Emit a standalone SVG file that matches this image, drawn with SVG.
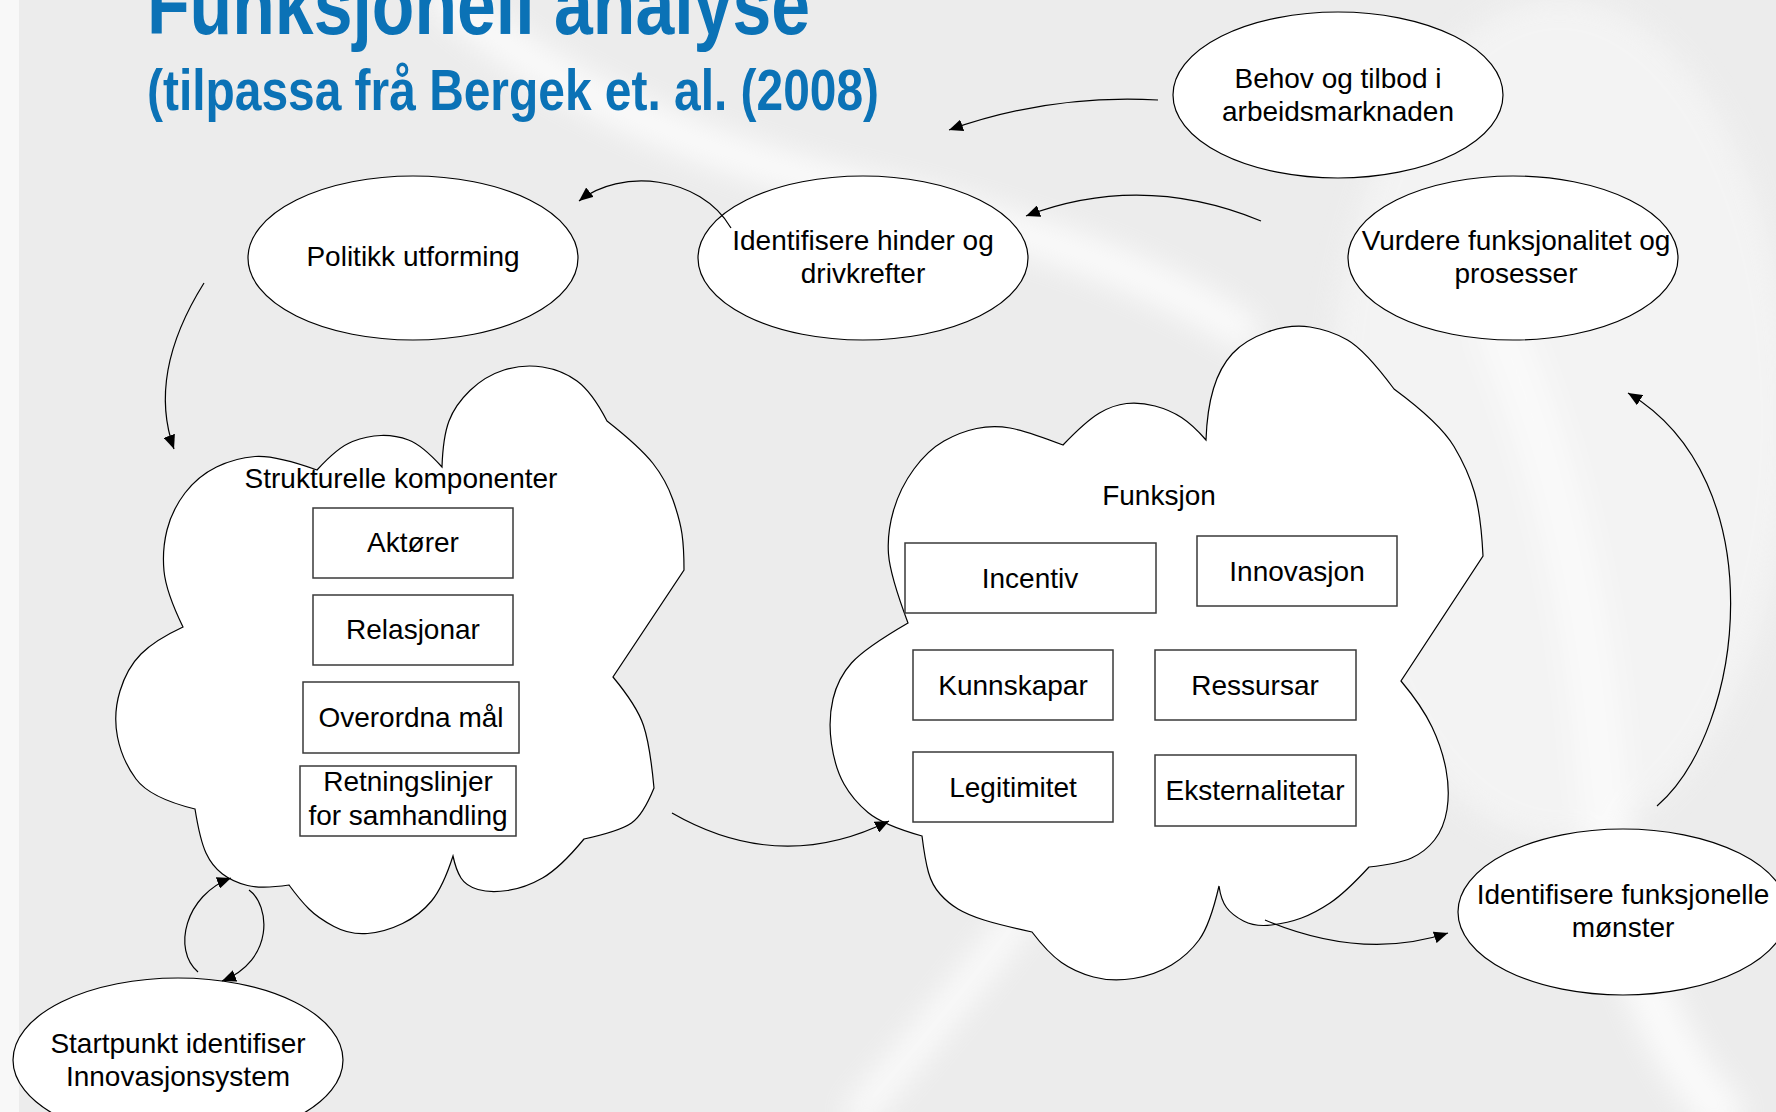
<svg xmlns="http://www.w3.org/2000/svg" width="1776" height="1112" viewBox="0 0 1776 1112">
<defs>
  <marker id="ah" viewBox="0 0 14 12" markerWidth="14" markerHeight="12" refX="14" refY="6" orient="auto" markerUnits="userSpaceOnUse">
    <path d="M0,0 L14,6 L0,12 Z" fill="#000"/>
  </marker>
  <filter id="soft" x="-20%" y="-20%" width="140%" height="140%">
    <feGaussianBlur stdDeviation="14"/>
  </filter>
</defs>
<style>
  .lbl { font-family: "Liberation Sans", Arial, sans-serif; font-size: 28px; fill: #000; text-anchor: middle; }
  .ell { fill: #fff; stroke: #000; stroke-width: 1.2; }
  .box { fill: #fff; stroke: #3a3a3a; stroke-width: 1.5; }
  .cloud { fill: #fff; stroke: #000; stroke-width: 1.2; }
  .conn { fill: none; stroke: #000; stroke-width: 1.2; marker-end: url(#ah); }
  .title { font-family: "Liberation Sans Narrow", "Liberation Sans", Arial, sans-serif; font-weight: bold; fill: #0b72b6; }
  .band { fill: none; stroke: #ffffff; stroke-linecap: round; }
</style>

<g id="background">
  <rect x="0" y="0" width="1776" height="1112" fill="#ececec"/>
  <g filter="url(#soft)" opacity="0.75">
    <ellipse cx="1560" cy="420" rx="230" ry="420" fill="#f6f6f6"/>
    <path class="band" d="M450,0 Q600,130 860,190 T1240,330" stroke-width="38"/>
    <path class="band" d="M1500,330 Q1580,520 1600,760 T1720,1112" stroke-width="46"/>
    <path class="band" d="M1130,760 Q1020,930 860,1112" stroke-width="30"/>
  </g>
  <rect x="0" y="0" width="19" height="1112" fill="#f8f8f8"/>
</g>

<g id="title">
  <text class="title" x="147" y="34" font-size="85" textLength="663" lengthAdjust="spacingAndGlyphs">Funksjonell analyse</text>
  <text class="title" x="147" y="110" font-size="58" textLength="732" lengthAdjust="spacingAndGlyphs">(tilpassa frå Bergek et. al. (2008)</text>
</g>

<g id="strukturelle-komponenter">
  <path class="cloud" d="M183,627 Q166,592 164,571 Q162,550 167,530 Q172,510 185,493 Q198,476 216.5,467 Q235,458 255,456.5 Q275,455 317,470
    Q338,447 352.5,441.5 Q367,436 381,435.5 Q395,435 408.5,440 Q422,445 442,467
    Q443,437 449,421 Q455,405 470,390.5 Q485,376 504,370 Q523,364 542.5,367 Q562,370 577,381 Q592,392 607,421
    Q640,447 653,463.5 Q666,480 673,500 Q680,520 682,534 Q684,548 684,570
    L613,677
    Q637,706 643.5,725.5 Q650,745 654,788
    Q643,815 631.5,823 Q620,831 584,839
    Q560,868 542.5,878 Q525,888 507.5,890.5 Q490,893 478,889.5 Q466,886 461,878 Q456,870 453,856
    Q443,887 431.5,901 Q420,915 402.5,923.5 Q385,932 367.5,933.5 Q350,935 334,926.5 Q318,918 309,909 Q300,900 289,885
    Q262,889 247.5,885.5 Q233,882 222.5,874 Q212,866 206,853 Q200,840 195,809
    Q150,798 136,779 Q122,760 117.5,737 Q113,714 120,691 Q127,668 141,654 Q155,640 183,627 Z"/>
  <text class="lbl" x="401" y="488">Strukturelle komponenter</text>
  <g id="aktorer">
    <rect class="box" x="313" y="508" width="200" height="70"/>
    <text class="lbl" x="413" y="552">Aktører</text>
  </g>
  <g id="relasjonar">
    <rect class="box" x="313" y="595" width="200" height="70"/>
    <text class="lbl" x="413" y="639">Relasjonar</text>
  </g>
  <g id="overordna-mal">
    <rect class="box" x="303" y="682" width="216" height="71"/>
    <text class="lbl" x="411" y="727">Overordna mål</text>
  </g>
  <g id="retningslinjer">
    <rect class="box" x="300" y="766" width="216" height="70"/>
    <text class="lbl" x="408" y="791">Retningslinjer</text>
    <text class="lbl" x="408" y="825">for samhandling</text>
  </g>
</g>

<g id="funksjon">
  <path class="cloud" d="M908,623 Q890,575 888.5,554 Q887,533 893.5,510.5 Q900,488 914,469 Q928,450 944,441 Q960,432 976.5,428.5 Q993,425 1010,428 Q1027,431 1063,445
    Q1086,421 1099.5,413 Q1113,405 1126.5,403.5 Q1140,402 1155,406 Q1170,410 1181.5,417.5 Q1193,425 1206,440
    Q1207,410 1213.5,388.5 Q1220,367 1232.5,353.5 Q1245,340 1267.5,332 Q1290,324 1310,327 Q1330,330 1347.5,340 Q1365,350 1394,389
    Q1440,423 1454,446.5 Q1468,470 1474.5,492.5 Q1481,515 1483,556
    L1401,681
    Q1422,706 1432,727 Q1442,748 1446,769.5 Q1450,791 1447,809.5 Q1444,828 1434.5,840 Q1425,852 1411.5,858 Q1398,864 1369,867
    Q1345,893 1330,903 Q1315,913 1301.5,918 Q1288,923 1271.5,925 Q1255,927 1243.5,921 Q1232,915 1226.5,907.5 Q1221,900 1219,886
    Q1210,925 1199,940 Q1188,955 1171.5,965 Q1155,975 1133.5,978.5 Q1112,982 1093.5,977 Q1075,972 1061.5,962.5 Q1048,953 1032,932
    Q1000,925 984,920 Q968,915 958,909 Q948,903 940,894 Q932,885 928.5,872.5 Q925,860 922,836
    Q883,825 868,812.5 Q853,800 844,784 Q835,768 831.5,744 Q828,720 833,699 Q838,678 851.5,663 Q865,648 908,623 Z"/>
  <text class="lbl" x="1159" y="505">Funksjon</text>
  <g id="incentiv">
    <rect class="box" x="905" y="543" width="251" height="70"/>
    <text class="lbl" x="1030" y="588">Incentiv</text>
  </g>
  <g id="innovasjon">
    <rect class="box" x="1197" y="536" width="200" height="70"/>
    <text class="lbl" x="1297" y="581">Innovasjon</text>
  </g>
  <g id="kunnskapar">
    <rect class="box" x="913" y="650" width="200" height="70"/>
    <text class="lbl" x="1013" y="695">Kunnskapar</text>
  </g>
  <g id="ressursar">
    <rect class="box" x="1155" y="650" width="201" height="70"/>
    <text class="lbl" x="1255" y="695">Ressursar</text>
  </g>
  <g id="legitimitet">
    <rect class="box" x="913" y="752" width="200" height="70"/>
    <text class="lbl" x="1013" y="797">Legitimitet</text>
  </g>
  <g id="eksternalitetar">
    <rect class="box" x="1155" y="755" width="201" height="71"/>
    <text class="lbl" x="1255" y="800">Eksternalitetar</text>
  </g>
</g>

<g id="behov-og-tilbod">
  <ellipse class="ell" cx="1338" cy="95" rx="165" ry="83"/>
  <text class="lbl" x="1338" y="88">Behov og tilbod i</text>
  <text class="lbl" x="1338" y="121">arbeidsmarknaden</text>
</g>

<g id="vurdere-funksjonalitet">
  <ellipse class="ell" cx="1513" cy="258" rx="165" ry="82"/>
  <text class="lbl" x="1516" y="250">Vurdere funksjonalitet og</text>
  <text class="lbl" x="1516" y="283">prosesser</text>
</g>

<g id="identifisere-hinder">
  <ellipse class="ell" cx="863" cy="258" rx="165" ry="82"/>
  <text class="lbl" x="863" y="250">Identifisere hinder og</text>
  <text class="lbl" x="863" y="283">drivkrefter</text>
</g>

<g id="politikk-utforming">
  <ellipse class="ell" cx="413" cy="258" rx="165" ry="82"/>
  <text class="lbl" x="413" y="266">Politikk utforming</text>
</g>

<g id="identifisere-funksjonelle">
  <ellipse class="ell" cx="1623" cy="912" rx="165" ry="83"/>
  <text class="lbl" x="1623" y="904">Identifisere funksjonelle</text>
  <text class="lbl" x="1623" y="937">mønster</text>
</g>

<g id="startpunkt">
  <ellipse class="ell" cx="178" cy="1060" rx="165" ry="82"/>
  <text class="lbl" x="178" y="1053">Startpunkt identifiser</text>
  <text class="lbl" x="178" y="1086">Innovasjonsystem</text>
</g>

<g id="connectors">
  <path class="conn" d="M1158,100 Q1050,94 949,130"/>
  <path class="conn" d="M1261,221 Q1142,172 1026,216"/>
  <path class="conn" d="M731,228 C700,175 620,168 579,201"/>
  <path class="conn" d="M204,283 Q147,374 174,449"/>
  <path class="conn" d="M672,813 Q780,875 889,821"/>
  <path class="conn" d="M1265,920 Q1363,961 1448,933"/>
  <path class="conn" d="M1657,806 C1745,730 1775,480 1628,393"/>
  <path class="conn" d="M198,972 C172,950 185,895 231,878"/>
  <path class="conn" d="M249,890 C270,905 275,960 222,981"/>
</g>
</svg>
